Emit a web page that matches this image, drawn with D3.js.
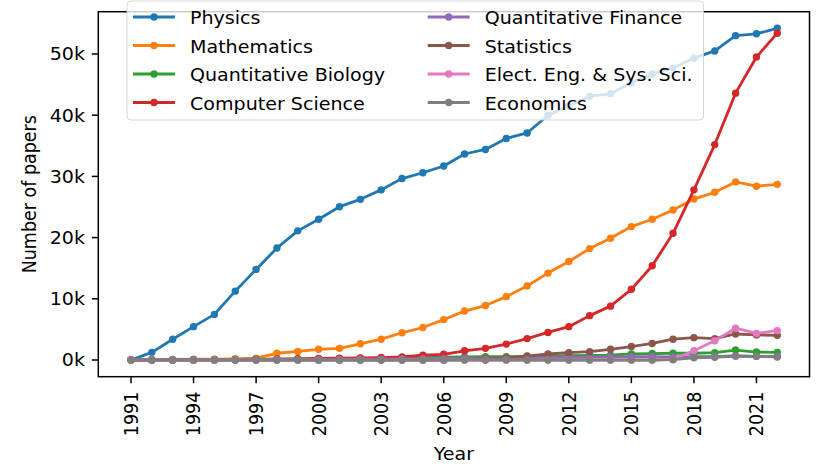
<!DOCTYPE html>
<html>
<head>
<meta charset="utf-8">
<script src="https://cdn.jsdelivr.net/npm/d3@7"></script>
<style>
  body { margin: 0; background: #fff; }
  text { font-family: "DejaVu Sans", sans-serif; font-size: 17.5px; fill: #000; }
</style>
</head>
<body>
<div id="chart"></div>
<script>
// Data (paper counts in thousands)
var years = [1991, 1992, 1993, 1994, 1995, 1996, 1997, 1998, 1999, 2000,
             2001, 2002, 2003, 2004, 2005, 2006, 2007, 2008, 2009, 2010,
             2011, 2012, 2013, 2014, 2015, 2016, 2017, 2018, 2019, 2020,
             2021, 2022];

var physics = [0, 1.25, 3.4, 5.45, 7.45, 11.25, 14.8, 18.3, 21.1, 23.0,
               25.05, 26.25, 27.8, 29.65, 30.6, 31.7, 33.66, 34.4, 36.2, 37.1,
               40.0, 41.5, 43.1, 43.5, 45.3, 46.7, 47.7, 49.3, 50.5, 53.0,
               53.3, 54.2];
var mathematics = [0.05, 0.08, 0.1, 0.12, 0.15, 0.2, 0.3, 1.1, 1.4, 1.75,
                   1.9, 2.65, 3.4, 4.45, 5.3, 6.6, 8.0, 8.9, 10.35, 12.1,
                   14.2, 16.1, 18.2, 19.9, 21.8, 23.0, 24.5, 26.3, 27.4, 29.1,
                   28.4, 28.7];
var quantBio = [0, 0, 0.02, 0.05, 0.08, 0.1, 0.12, 0.15, 0.18, 0.2,
                0.22, 0.25, 0.28, 0.32, 0.4, 0.45, 0.5, 0.55, 0.55, 0.6,
                0.65, 0.7, 0.75, 0.8, 1.0, 1.05, 1.1, 1.1, 1.2, 1.63,
                1.3, 1.25];
var compSci = [0, 0.01, 0.02, 0.04, 0.06, 0.08, 0.1, 0.15, 0.2, 0.25,
               0.3, 0.35, 0.4, 0.5, 0.8, 0.93, 1.5, 1.9, 2.6, 3.5,
               4.5, 5.45, 7.25, 8.8, 11.55, 15.4, 20.7, 27.8, 35.2, 43.6,
               49.5, 53.4];
var quantFin = [0, 0, 0, 0, 0, 0, 0, 0.02, 0.05, 0.08,
                0.1, 0.12, 0.15, 0.18, 0.2, 0.25, 0.28, 0.3, 0.33, 0.36,
                0.4, 0.45, 0.48, 0.5, 0.55, 0.55, 0.5, 0.55, 0.6, 0.65,
                0.6, 0.58];
var statistics = [0, 0, 0, 0, 0, 0, 0, 0, 0, 0,
                  0, 0, 0, 0, 0, 0, 0.1, 0.2, 0.35, 0.65,
                  0.98, 1.2, 1.36, 1.75, 2.2, 2.7, 3.4, 3.65, 3.5, 4.25,
                  4.1, 4.03];
var eess = [0, 0, 0, 0, 0, 0, 0, 0, 0, 0,
            0, 0, 0, 0, 0, 0, 0, 0, 0, 0,
            0, 0, 0, 0, 0, 0, 0.1, 1.5, 3.15, 5.2,
            4.35, 4.8];
var economics = [0, 0, 0, 0, 0, 0, 0, 0, 0, 0,
                 0, 0, 0, 0, 0, 0, 0, 0, 0, 0,
                 0, 0, 0, 0, 0, 0, 0.05, 0.35, 0.45, 0.65,
                 0.6, 0.5];

var seriesNames = ["Physics", "Mathematics", "Quantitative Biology", "Computer Science",
                   "Quantitative Finance", "Statistics", "Elect. Eng. & Sys. Sci.", "Economics"];
var seriesValues = [physics, mathematics, quantBio, compSci, quantFin, statistics, eess, economics];

var xTicks = [1991, 1994, 1997, 2000, 2003, 2006, 2009, 2012, 2015, 2018, 2021];
var yTicks = [0, 10, 20, 30, 40, 50];

function init() {
    var w = 831, h = 464;
    var left = 98.3, right = 809.5, top = 11.7, bottom = 376.7;
    var sx = 1.09;  // the picture is a bit wider than tall in its text

    var svg = d3.select("#chart").append("svg")
                .attr("width", w)
                .attr("height", h);

    var colors = d3.scaleOrdinal()
                   .domain(seriesNames)
                   .range(["#1f77b4", "#ff7f0e", "#2ca02c", "#d62728",
                           "#9467bd", "#8c564b", "#e377c2", "#7f7f7f"]);

    var xScale = d3.scaleLinear().domain([1991, 2022]).range([131, 777.3]);
    var yScale = d3.scaleLinear().domain([0, 50]).range([360, 54]);

    function place(x, y, rot) {
        return "translate(" + x + "," + y + ") scale(" + sx + ",1)" + (rot ? " rotate(-90)" : "");
    }

    // Lines with dot markers
    var line = d3.line()
                 .x(function(d, i) { return xScale(years[i]); })
                 .y(function(d) { return yScale(d); });

    var groups = svg.selectAll("g.series")
                    .data(seriesValues)
                    .enter()
                    .append("g")
                    .attr("class", "series");

    groups.append("path")
          .attr("d", function(d) { return line(d); })
          .attr("fill", "none")
          .attr("stroke", function(d, i) { return colors(seriesNames[i]); })
          .attr("stroke-width", 2.8)
          .attr("stroke-linejoin", "round");

    groups.each(function(vals, k) {
        d3.select(this).selectAll("circle")
          .data(vals)
          .enter()
          .append("circle")
          .attr("cx", function(d, i) { return xScale(years[i]); })
          .attr("cy", function(d) { return yScale(d); })
          .attr("r", 3.7)
          .attr("fill", colors(seriesNames[k]));
    });

    // Axes frame
    svg.append("rect")
       .attr("x", left).attr("y", top)
       .attr("width", right - left).attr("height", bottom - top)
       .attr("fill", "none").attr("stroke", "#000").attr("stroke-width", 1.5);

    // Y ticks
    var yt = svg.append("g");
    yTicks.forEach(function(t) {
        var y = yScale(t);
        yt.append("line").attr("x1", left - 6.5).attr("x2", left)
          .attr("y1", y).attr("y2", y).attr("stroke", "#000").attr("stroke-width", 1.5);
        yt.append("text").attr("transform", place(85, y))
          .attr("text-anchor", "end").attr("dy", "0.36em").text(t + "k");
    });

    // X ticks
    var xt = svg.append("g");
    xTicks.forEach(function(t) {
        var x = xScale(t);
        xt.append("line").attr("x1", x).attr("x2", x)
          .attr("y1", bottom).attr("y2", bottom + 6.5).attr("stroke", "#000").attr("stroke-width", 1.5);
        xt.append("text").attr("transform", place(x, 391.7, true))
          .attr("text-anchor", "end").attr("dy", "0.36em").text(t);
    });

    // Axis labels
    svg.append("text").attr("transform", place((left + right) / 2, 460))
       .attr("text-anchor", "middle").text("Year");
    svg.append("text").attr("transform", place(35.5, (top + bottom) / 2, true))
       .attr("text-anchor", "middle").text("Number of papers");

    // Legend
    var legend = svg.append("g");
    legend.append("rect")
          .attr("x", 127).attr("y", 1)
          .attr("width", 576.5).attr("height", 119)
          .attr("rx", 4)
          .attr("fill", "#fff").attr("fill-opacity", 0.8)
          .attr("stroke", "#cccccc").attr("stroke-opacity", 0.8);

    var cols = [133, 427.7];
    var entries = legend.selectAll("g.legend")
                        .data(seriesNames)
                        .enter()
                        .append("g")
                        .attr("class", "legend")
                        .attr("transform", function(d, i) {
                            return "translate(" + cols[Math.floor(i / 4)] + "," + (24 + (i % 4) * 28.5) + ")";
                        });

    entries.append("line")
           .attr("x1", 0).attr("x2", 42).attr("y1", -7).attr("y2", -7)
           .attr("stroke", function(d) { return colors(d); })
           .attr("stroke-width", 2.8);
    entries.append("circle")
           .attr("cx", 21).attr("cy", -7).attr("r", 3.7)
           .attr("fill", function(d) { return colors(d); });
    entries.append("text")
           .attr("transform", place(57, 0))
           .text(function(d) { return d; });
}

window.onload = init;
</script>
</body>
</html>
